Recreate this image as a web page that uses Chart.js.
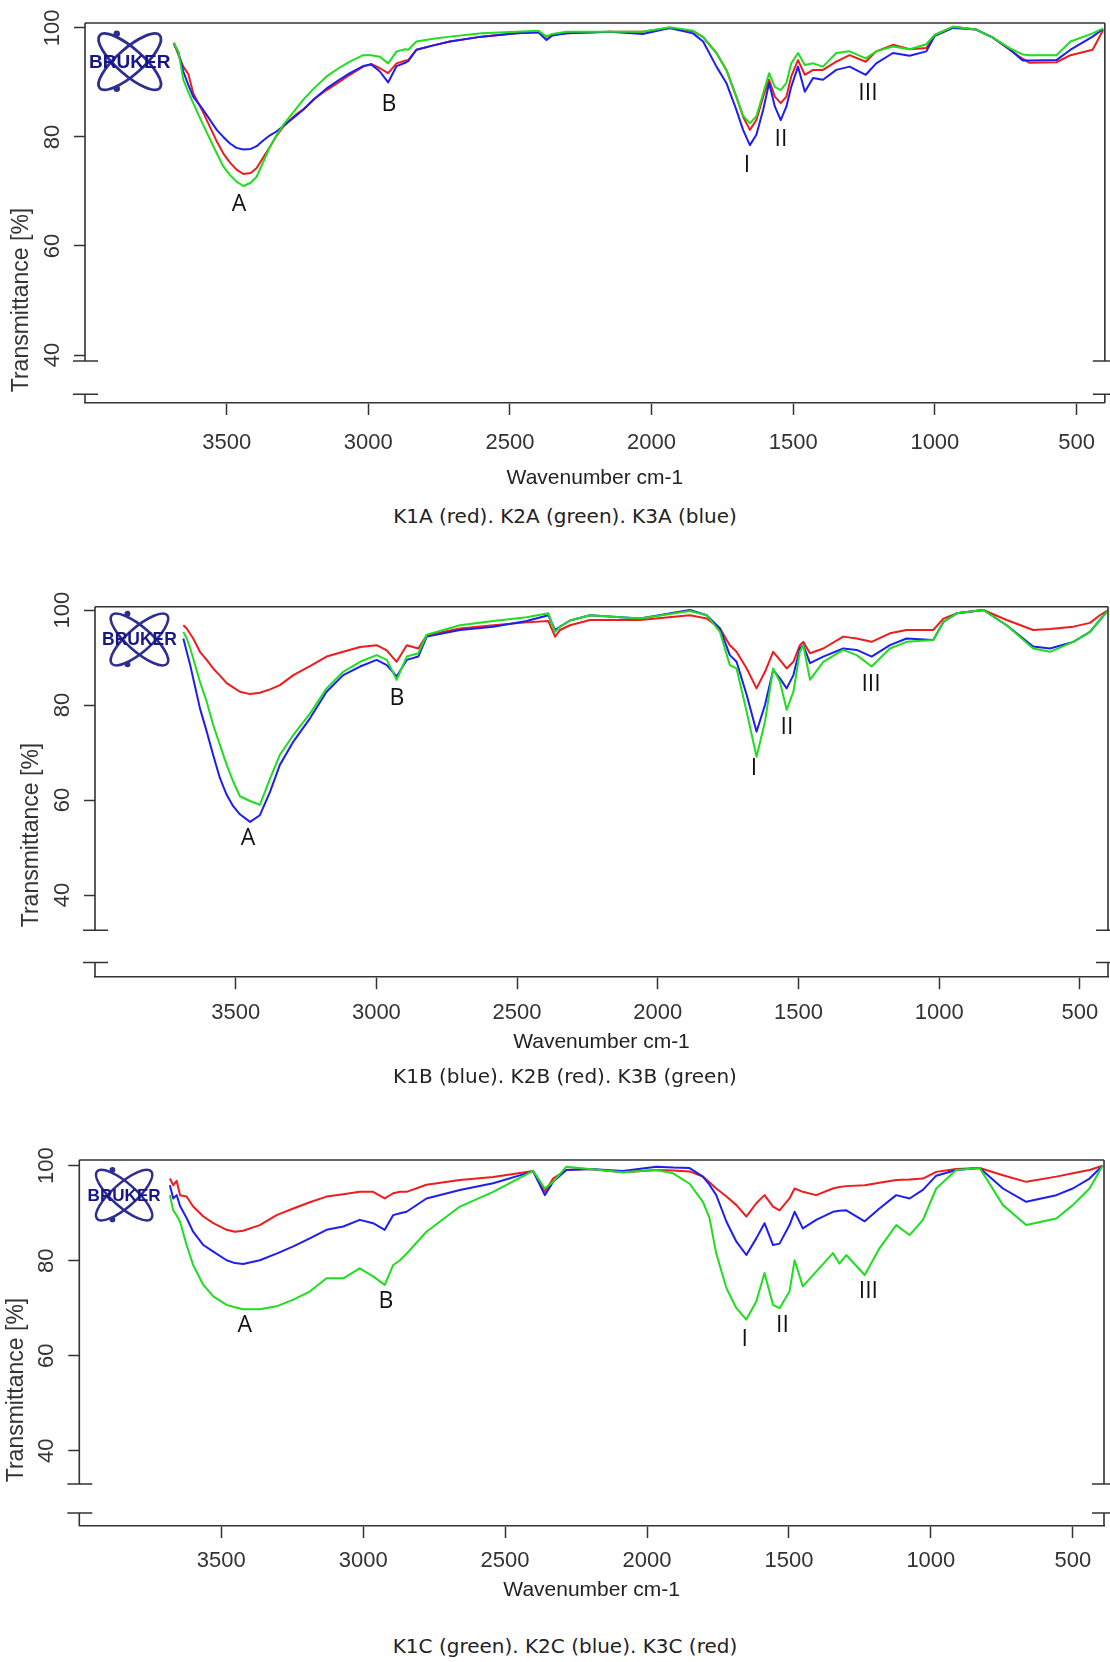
<!DOCTYPE html>
<html>
<head>
<meta charset="utf-8">
<script src="https://cdn.jsdelivr.net/npm/chart.js@4.4.1/dist/chart.umd.min.js"></script>
<style>
  body { margin: 0; background: #fff; }
  #page { position: relative; width: 1110px; height: 1662px; overflow: hidden; }
  canvas { position: absolute; left: 0; }
  .caption { position: absolute; left: 0; width: 1130px; text-align: center; font: 20px "DejaVu Sans", sans-serif; color: #222; line-height: 24px; }
</style>
</head>
<body>
<div id="page">
  <canvas id="c1" width="1110" height="500" style="top:0px"></canvas>
  <div class="caption" style="top:504px">K1A (red). K2A (green). K3A (blue)</div>
  <canvas id="c2" width="1110" height="500" style="top:570px"></canvas>
  <div class="caption" style="top:1064px">K1B (blue). K2B (red). K3B (green)</div>
  <canvas id="c3" width="1110" height="490" style="top:1120px"></canvas>
  <div class="caption" style="top:1634px">K1C (green). K2C (blue). K3C (red)</div>
</div>
<script>
// axis ticks
const xTicks = [3500, 3000, 2500, 2000, 1500, 1000, 500];
const yTicks = [40, 60, 80, 100];
const peakText = ['A', 'B', 'I', 'II', 'III'];

// panel A - wavenumbers and transmittance
const wnA = [3686, 3670, 3653, 3635, 3618, 3583, 3535, 3512, 3488, 3465, 3441, 3415, 3394, 3370, 3347, 3324, 3300, 3253, 3230, 3190,
  3147, 3105, 3065, 3018, 2990, 2959, 2930, 2900, 2870, 2859, 2830, 2770, 2712, 2600, 2477, 2400, 2371, 2350, 2300, 2148,
  2031, 1936, 1854, 1818, 1771, 1736, 1701, 1677, 1653, 1630, 1606, 1585, 1565, 1544, 1524, 1507, 1483, 1459, 1430, 1395,
  1348, 1301, 1244, 1207, 1148, 1089, 1030, 1001, 936, 854, 795, 736, 689, 666, 571, 521, 443, 406];
const k1A = [97.3, 95.0, 92.9, 91.5, 88.0, 84.5, 79.2, 77.0, 75.3, 74.0, 73.2, 73.4, 74.3, 76.3, 78.2, 80.2, 81.9, 84.2, 85.0, 87.0,
  88.6, 90.0, 91.4, 92.9, 93.4, 92.6, 91.7, 93.5, 94.0, 94.1, 96.0, 96.8, 97.5, 98.4, 99.0, 99.2, 98.4, 98.8, 99.0, 99.3,
  99.3, 100.0, 99.4, 98.3, 95.4, 92.3, 87.4, 83.7, 81.3, 83.1, 87.4, 90.5, 87.4, 86.2, 87.4, 91.1, 94.1, 91.4, 92.3, 92.3,
  93.8, 95.0, 93.8, 95.7, 96.9, 96.1, 96.3, 98.7, 100.2, 99.7, 98.2, 96.0, 94.3, 93.6, 93.7, 95.0, 96.0, 99.6];
const k2A = [97.2, 95.5, 90.5, 88.2, 86.2, 82.2, 77.0, 74.6, 73.0, 71.8, 71.0, 71.6, 72.7, 75.5, 78.2, 80.3, 82.2, 85.3, 86.8, 89.0,
  91.1, 92.6, 93.8, 95.0, 95.0, 94.7, 93.5, 95.7, 96.1, 96.0, 97.5, 98.0, 98.4, 99.0, 99.3, 99.5, 98.4, 98.9, 99.3, 99.3,
  99.3, 100.1, 99.5, 98.3, 95.4, 92.3, 87.4, 83.9, 82.5, 83.8, 88.0, 91.7, 89.2, 88.6, 89.9, 93.5, 95.4, 93.2, 93.5, 92.9,
  95.4, 95.7, 94.4, 95.7, 96.6, 96.1, 97.0, 98.7, 100.2, 99.7, 98.2, 96.3, 95.1, 95.0, 95.0, 97.5, 99.0, 99.9];
const k3A = [97.0, 95.5, 92.0, 89.5, 87.4, 85.0, 81.3, 80.0, 78.8, 78.0, 77.7, 77.8, 78.3, 79.4, 80.3, 81.0, 82.0, 84.0, 85.0, 87.0,
  88.9, 90.4, 91.7, 93.0, 93.3, 92.0, 90.0, 93.0, 93.6, 93.9, 96.0, 96.8, 97.5, 98.4, 99.0, 99.2, 97.8, 98.6, 99.0, 99.3,
  98.9, 100.0, 99.0, 97.5, 92.9, 89.9, 85.0, 81.3, 78.5, 80.4, 85.0, 89.9, 85.6, 83.1, 85.6, 89.2, 92.9, 88.3, 90.8, 90.5,
  92.3, 92.9, 91.4, 93.5, 95.4, 94.9, 95.7, 98.5, 100.0, 99.7, 98.2, 96.1, 94.0, 94.0, 94.1, 96.0, 98.4, 99.8];
const peakWnA = [3456, 2927, 1663, 1543, 1236];
const peakTA = [67.6, 86.0, 74.8, 79.6, 87.9];

// panel B
const wnB = [3686, 3674, 3662, 3651, 3627, 3603, 3580, 3556, 3532, 3509, 3485, 3449, 3414, 3378, 3343, 3295, 3236, 3177, 3118, 3058,
  2999, 2963, 2928, 2892, 2851, 2821, 2703, 2584, 2466, 2389, 2365, 2347, 2312, 2241, 2063, 1886, 1826, 1779, 1744, 1720,
  1684, 1649, 1619, 1590, 1566, 1542, 1518, 1495, 1483, 1459, 1412, 1341, 1293, 1240, 1175, 1116, 1021, 985, 938, 843,
  760, 666, 606, 523, 464, 429, 399];
const k1B = [94.0, 91.2, 88.5, 85.6, 79.3, 74.4, 69.5, 64.6, 61.1, 58.7, 57.0, 55.4, 56.8, 61.7, 67.4, 72.3, 77.2, 82.8, 86.3, 88.1,
  89.5, 88.4, 86.0, 89.5, 90.2, 94.4, 95.8, 96.5, 97.7, 98.9, 95.8, 96.5, 97.8, 98.9, 98.2, 100.0, 98.9, 96.1, 90.5, 89.1,
  82.1, 74.4, 80.0, 87.4, 85.6, 83.5, 86.3, 91.9, 92.6, 88.8, 90.2, 91.9, 91.6, 90.2, 92.6, 94.0, 93.7, 97.5, 99.3, 100.0,
  96.8, 92.3, 91.9, 93.3, 95.4, 97.9, 100.0];
const k2B = [96.8, 96.1, 95.0, 94.0, 91.2, 89.5, 87.7, 86.2, 84.6, 83.7, 82.8, 82.3, 82.6, 83.3, 84.2, 86.3, 88.2, 90.2, 91.2, 92.2,
  92.6, 91.5, 89.1, 92.6, 91.9, 94.7, 96.1, 96.8, 97.4, 97.7, 94.4, 95.8, 96.8, 97.9, 97.9, 98.9, 98.2, 96.1, 92.6, 91.2,
  87.7, 83.5, 87.0, 91.2, 89.5, 87.7, 89.1, 92.6, 93.3, 90.9, 91.9, 94.4, 94.0, 93.3, 95.1, 95.8, 95.8, 98.2, 99.3, 100.0,
  97.9, 95.8, 96.0, 96.5, 97.3, 98.9, 100.0];
const k3B = [95.4, 94.0, 92.0, 89.8, 84.9, 80.7, 75.8, 71.6, 67.4, 63.9, 60.8, 59.8, 59.0, 64.5, 69.5, 73.7, 78.2, 83.5, 87.0, 89.1,
  90.5, 89.5, 85.3, 90.2, 90.9, 94.8, 96.8, 97.7, 98.5, 99.3, 95.4, 96.5, 97.8, 98.9, 98.2, 99.8, 98.9, 95.4, 88.4, 87.7,
  78.6, 69.1, 76.5, 87.7, 84.9, 79.0, 82.8, 91.2, 92.6, 85.3, 89.1, 91.6, 90.5, 88.1, 91.9, 93.3, 93.7, 97.5, 99.3, 100.0,
  96.8, 91.9, 91.2, 93.3, 95.4, 97.9, 100.0];
const peakWnB = [3456, 2927, 1658, 1541, 1242];
const peakTB = [52.0, 81.3, 66.7, 75.2, 84.4];

// panel C
const wnC = [3681, 3669, 3657, 3645, 3622, 3599, 3563, 3528, 3481, 3452, 3423, 3364, 3305, 3246, 3188, 3129, 3070, 3012, 2965, 2924,
  2894, 2870, 2847, 2777, 2659, 2542, 2401, 2360, 2331, 2284, 2202, 2085, 1967, 1908, 1850, 1803, 1780, 1756, 1720, 1685,
  1650, 1615, 1586, 1556, 1533, 1498, 1480, 1451, 1404, 1345, 1322, 1298, 1233, 1181, 1122, 1075, 1028, 981, 911, 828,
  746, 664, 558, 500, 441, 395];
const k1C = [93.8, 90.6, 89.5, 88.2, 83.3, 79.1, 74.9, 72.5, 70.7, 70.2, 69.8, 69.8, 70.4, 71.8, 73.5, 76.3, 76.3, 78.4, 76.7, 74.9,
  79.1, 80.1, 81.5, 86.1, 91.4, 94.5, 98.9, 95.2, 96.6, 99.8, 99.3, 98.6, 99.1, 98.4, 96.2, 92.4, 89.0, 81.5, 74.2, 70.0,
  67.6, 71.4, 77.4, 70.7, 70.0, 73.5, 80.1, 74.6, 77.7, 81.6, 79.4, 81.2, 77.0, 82.6, 87.5, 85.4, 88.6, 95.2, 99.1, 99.5,
  91.7, 87.5, 88.9, 91.7, 95.2, 100.0];
const k2C = [95.9, 93.1, 93.8, 91.5, 89.0, 86.1, 83.3, 81.9, 80.1, 79.5, 79.3, 80.1, 81.5, 83.0, 84.7, 86.5, 87.2, 88.6, 87.9, 86.5,
  89.6, 90.0, 90.3, 93.1, 94.9, 96.3, 98.8, 93.8, 96.6, 99.1, 99.3, 98.9, 99.8, 99.6, 99.5, 97.7, 96.0, 93.8, 88.2, 84.0,
  81.2, 84.7, 87.9, 83.3, 83.6, 87.5, 90.3, 86.8, 88.6, 90.3, 90.5, 90.6, 88.3, 91.0, 93.8, 93.1, 94.9, 97.9, 99.1, 99.5,
  95.2, 92.4, 93.8, 95.2, 97.3, 100.0];
const k3C = [97.3, 95.9, 96.8, 93.8, 93.5, 91.4, 89.3, 87.9, 86.5, 86.1, 86.3, 87.5, 89.6, 91.0, 92.3, 93.5, 94.0, 94.5, 94.5, 93.1,
  94.2, 94.5, 94.5, 96.0, 97.0, 97.6, 98.9, 94.5, 97.3, 99.1, 99.3, 98.6, 99.1, 99.0, 98.8, 97.7, 96.5, 95.2, 93.5, 91.7,
  89.3, 92.1, 93.8, 91.4, 90.6, 93.1, 95.2, 94.5, 93.8, 95.2, 95.5, 95.7, 95.9, 96.4, 97.0, 97.1, 97.3, 98.7, 99.3, 99.5,
  98.0, 96.6, 97.7, 98.4, 99.1, 100.0];
const peakWnC = [3417, 2920, 1656, 1523, 1220];
const peakTC = [66.3, 71.5, 63.5, 66.3, 73.6];

const RED = '#ee1c1c', GREEN = '#1fdd1f', BLUE = '#1e1ef0';
const tickFont = '"Liberation Sans Narrow", "Liberation Sans", Arial, sans-serif';

function drawLogo(ctx, cx, cy, s) {
  ctx.save();
  ctx.translate(cx, cy);
  ctx.scale(s, s);
  ctx.strokeStyle = '#2e2e90';
  ctx.fillStyle = '#2e2e90';
  ctx.lineWidth = 2.8;
  [0.72, -0.72].forEach(r => {
    ctx.beginPath();
    ctx.ellipse(0, 0, 40, 13, r, 0, Math.PI * 2);
    ctx.stroke();
  });
  [[-13, -28], [-13, 27]].forEach(([dx, dy]) => {
    ctx.beginPath();
    ctx.arc(dx, dy, 3.2, 0, Math.PI * 2);
    ctx.fill();
  });
  ctx.font = 'bold 19px "Liberation Sans", Arial, sans-serif';
  ctx.textAlign = 'center';
  ctx.textBaseline = 'middle';
  ctx.fillStyle = '#16168a';
  ctx.fillText('BRUKER', 0, 1);
  ctx.restore();
}

function makeDecor(p) {
  return {
    id: 'decor',
    afterDraw(chart) {
      const {ctx, chartArea: a, scales: {x, y}} = chart;
      const yb1 = y.getPixelForValue(p.breaks[0]);
      const yb2 = y.getPixelForValue(p.breaks[1]);
      ctx.save();
      // box with axis breaks
      ctx.strokeStyle = '#333';
      ctx.lineWidth = 1.6;
      ctx.beginPath();
      ctx.moveTo(a.left, a.top);
      ctx.lineTo(a.right, a.top);
      [a.left, a.right].forEach(px => {
        ctx.moveTo(px, a.top); ctx.lineTo(px, yb1);
        ctx.moveTo(px, yb2); ctx.lineTo(px, a.bottom);
        ctx.moveTo(px - 12, yb1); ctx.lineTo(px + 13, yb1);
        ctx.moveTo(px - 12, yb2); ctx.lineTo(px + 13, yb2);
      });
      ctx.stroke();

      // rotated y tick labels
      ctx.fillStyle = '#333';
      ctx.textAlign = 'center';
      ctx.textBaseline = 'middle';
      ctx.font = '22px "Liberation Sans", Arial, sans-serif';
      y.ticks.forEach(t => {
        ctx.save();
        ctx.translate(p.yLabelX, y.getPixelForValue(t.value));
        ctx.rotate(-Math.PI / 2);
        ctx.fillText(String(t.value), 0, 0);
        ctx.restore();
      });
      ctx.font = '23px "Liberation Sans", Arial, sans-serif';
      ctx.save();
      ctx.translate(p.yTitleX, p.yTitleY);
      ctx.rotate(-Math.PI / 2);
      ctx.fillText('Transmittance [%]', 0, 0);
      ctx.restore();

      drawLogo(ctx, x.getPixelForValue(3842), y.getPixelForValue(93.8), p.logoScale);

      // peak labels
      ctx.fillStyle = '#111';
      ctx.font = '23px "Open Sans", "Liberation Sans", sans-serif';
      peakText.forEach((t, i) => {
        ctx.fillText(t, x.getPixelForValue(p.peakWn[i]), y.getPixelForValue(p.peakT[i]));
      });
      ctx.restore();
    }
  };
}

function makeChart(id, p) {
  const datasets = p.series.map(s => ({
    label: s.label,
    data: p.wn.map((w, i) => ({x: w, y: s.values[i]})),
    borderColor: s.color,
    borderWidth: 2,
    borderJoinStyle: 'round',
    pointRadius: 0,
    fill: false,
    tension: 0,
  }));
  return new Chart(document.getElementById(id), {
    type: 'line',
    data: {datasets},
    options: {
      responsive: false,
      animation: false,
      devicePixelRatio: 1,
      layout: {padding: {top: p.padTop, right: p.padRight, left: 0, bottom: 0}},
      plugins: {legend: {display: false}, tooltip: {enabled: false}},
      scales: {
        x: {
          type: 'linear',
          reverse: true,
          min: p.xMin,
          max: 4000,
          afterBuildTicks: s => { s.ticks = xTicks.map(v => ({value: v})); },
          afterFit: s => { s.height = p.xHeight; },
          grid: {drawOnChartArea: false, drawTicks: true, tickLength: 12, tickWidth: 1.5, tickColor: '#333'},
          border: {display: true, color: '#333', width: 1.6},
          ticks: {
            padding: p.tickPad, color: '#333', autoSkip: false, maxRotation: 0,
            font: {family: tickFont, size: 22},
            callback: v => String(v),
          },
          title: {
            display: true, text: 'Wavenumber cm-1', color: '#222',
            font: {family: tickFont, size: 21},
            padding: {top: 0, bottom: p.titlePad},
          },
        },
        y: {
          min: p.yMin,
          max: p.yMax,
          afterBuildTicks: s => { s.ticks = yTicks.map(v => ({value: v})); },
          afterFit: s => { s.width = p.yWidth; },
          grid: {drawOnChartArea: false, drawTicks: true, tickLength: 11, tickWidth: 1.5, tickColor: '#333'},
          border: {display: false},
          ticks: {display: false},
        },
      },
    },
    plugins: [makeDecor(p)],
  });
}

makeChart('c1', {
  wn: wnA,
  series: [
    {label: 'K2A', values: k2A, color: GREEN},
    {label: 'K3A', values: k3A, color: BLUE},
    {label: 'K1A', values: k1A, color: RED},
  ],
  xMin: 400, yMin: 31.2, yMax: 100.9, breaks: [38.9, 32.8],
  padTop: 23, padRight: 5, yWidth: 85, xHeight: 97, tickPad: 15, titlePad: 9.5,
  yLabelX: 53, yTitleX: 22, yTitleY: 300, logoScale: 1,
  peakWn: peakWnA, peakT: peakTA,
});

makeChart('c2', {
  wn: wnB,
  series: [
    {label: 'K3B', values: k3B, color: GREEN},
    {label: 'K1B', values: k1B, color: BLUE},
    {label: 'K2B', values: k2B, color: RED},
  ],
  xMin: 400, yMin: 22.7, yMax: 100.7, breaks: [32.6, 25.8],
  padTop: 36.7, padRight: 2, yWidth: 95, xHeight: 92.8, tickPad: 10.5, titlePad: 15.3,
  yLabelX: 63, yTitleX: 32, yTitleY: 265, logoScale: 0.92,
  peakWn: peakWnB, peakT: peakTB,
});

makeChart('c3', {
  wn: wnC,
  series: [
    {label: 'K1C', values: k1C, color: GREEN},
    {label: 'K2C', values: k2C, color: BLUE},
    {label: 'K3C', values: k3C, color: RED},
  ],
  xMin: 390, yMin: 24.15, yMax: 101.2, breaks: [33.0, 26.9],
  padTop: 40, padRight: 6, yWidth: 79.3, xHeight: 84, tickPad: 10, titlePad: 7,
  yLabelX: 47, yTitleX: 17, yTitleY: 270, logoScale: 0.9,
  peakWn: peakWnC, peakT: peakTC,
});
</script>
</body>
</html>
